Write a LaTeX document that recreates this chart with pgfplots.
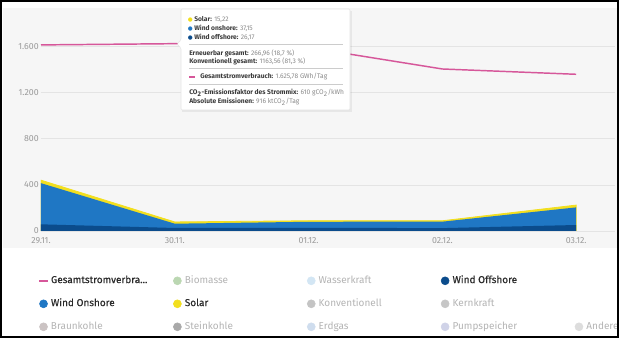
\documentclass[border=0pt]{standalone}
\usepackage{pgfplots}
\pgfplotsset{compat=1.18}
\usepackage{pgfplotstable}
\usepackage{fontspec}
\setmainfont{Fira Sans}
\newfontfamily\medfont{Fira Sans}[FakeBold=0.35]
\newfontfamily\dejavu{DejaVu Sans}
\definecolor{bgc}{HTML}{F6F6F6}
\definecolor{gridc}{HTML}{E4E4E4}
\definecolor{tickc}{HTML}{9A9A9A}
\definecolor{cPink}{HTML}{D6579A}
\definecolor{cOn}{HTML}{1F77C4}
\definecolor{cOff}{HTML}{0B4C8C}
\definecolor{cSolar}{HTML}{F2DF1E}
\definecolor{cBio}{HTML}{BBD7B2}
\definecolor{cWasser}{HTML}{D3E6F4}
\definecolor{cKonv}{HTML}{C4C4C4}
\definecolor{cKern}{HTML}{C6C6C6}
\definecolor{cBraun}{HTML}{CBC3C3}
\definecolor{cStein}{HTML}{A9A9A9}
\definecolor{cErdgas}{HTML}{CFDDEE}
\definecolor{cPump}{HTML}{D0D3E8}
\definecolor{cAndere}{HTML}{DDDDDD}
\definecolor{txtA}{HTML}{2A2A2A}
\definecolor{txtI}{HTML}{B4B4B4}
\definecolor{tipLab}{HTML}{3A3A3A}
\definecolor{tipVal}{HTML}{8A8A8A}

\pgfplotstableread{
x offshore onshore solar
0 58 357 26
1 26.17 37.15 15.22
2 28 52 9
3 25 56 8
4 52 153 20
}\energy
\pgfplotstableread{
x verbrauch
0 1615
1 1625.78
2 1592
3 1406
4 1360
}\verbrauch

\pgfplotsset{
  ldot/.style={legend image code/.code={\fill (3pt,0pt) circle (3pt);}},
  lline/.style={legend image code/.code={\fill[cPink] (0pt,-0.55pt) rectangle (6pt,0.55pt);}},
}
\newcommand{\legtxt}[2]{\makebox[94pt][l]{\hspace{2.4pt}\textcolor{#1}{#2}}}
\newcommand{\tipdot}[1]{\textcolor{#1}{\dejavu\fontsize{4.2}{5}\selectfont ●}\hspace{1.2pt}}

\begin{document}
\begin{tikzpicture}
\path[use as bounding box] (0pt,0pt) rectangle (464.25pt,-253.5pt);
\begin{scope}[x=0.75pt,y=-0.75pt]
\fill[white] (0,0) rectangle (619,338);
\fill[bgc] (3,8) rectangle (617,248);
\end{scope}
\begin{axis}[
  at={(30.75pt,-173.25pt)}, anchor=south west,
  scale only axis, width=430.5pt, height=164.2pt,
  xmin=0, xmax=4.29, ymin=0, ymax=1900,
  xtick={0,1,2,3,4},
  xticklabels={29.11.,30.11.,01.12.,02.12.,03.12.},
  ytick={0,400,800,1200,1600},
  yticklabels={0,400,800,1.200,1.600},
  ymajorgrids, grid style={draw=gridc, line width=0.6pt},
  axis line style={draw=none}, major tick length=0pt,
  tick label style={font=\fontsize{6.6}{7}\selectfont, text=tickc},
  yticklabel style={anchor=east, inner sep=0pt, xshift=-1.5pt},
  xticklabel style={anchor=north, inner sep=0pt, yshift=-4.9pt},
  legend columns=5,
  legend style={at={(-0.0035,-0.205)}, anchor=north west, draw=none, fill=none,
    inner sep=0pt, column sep=0pt, row sep=10.25pt,
    nodes={inner sep=0pt, text height=5.2pt, text depth=1.8pt},
    font=\fontsize{7.5}{8}\selectfont},
  legend cell align=left,
]
\addplot[fill=cSolar, draw=cSolar, line width=0.6pt, forget plot]
  table[x=x, y expr=\thisrow{offshore}+\thisrow{onshore}+\thisrow{solar}] {\energy} \closedcycle;
\addplot[fill=cOn, draw=none, forget plot]
  table[x=x, y expr=\thisrow{offshore}+\thisrow{onshore}] {\energy} \closedcycle;
\addplot[fill=cOff, draw=none, forget plot]
  table[x=x, y=offshore] {\energy} \closedcycle;
\addplot[cPink, line width=1.1pt, forget plot] table[x=x, y=verbrauch] {\verbrauch};

\addlegendimage{lline}\addlegendentry{\legtxt{txtA}{\medfont Gesamtstromverbra...}}
\addlegendimage{ldot, cBio}\addlegendentry{\legtxt{txtI}{Biomasse}}
\addlegendimage{ldot, cWasser}\addlegendentry{\legtxt{txtI}{Wasserkraft}}
\addlegendimage{ldot, cOff}\addlegendentry{\legtxt{txtA}{\medfont Wind Offshore}}
\addlegendimage{empty legend}\addlegendentry{}
\addlegendimage{ldot, cOn}\addlegendentry{\legtxt{txtA}{\medfont Wind Onshore}}
\addlegendimage{ldot, cSolar}\addlegendentry{\legtxt{txtA}{\medfont Solar}}
\addlegendimage{ldot, cKonv}\addlegendentry{\legtxt{txtI}{Konventionell}}
\addlegendimage{ldot, cKern}\addlegendentry{\legtxt{txtI}{Kernkraft}}
\addlegendimage{empty legend}\addlegendentry{}
\addlegendimage{ldot, cBraun}\addlegendentry{\legtxt{txtI}{Braunkohle}}
\addlegendimage{ldot, cStein}\addlegendentry{\legtxt{txtI}{Steinkohle}}
\addlegendimage{ldot, cErdgas}\addlegendentry{\legtxt{txtI}{Erdgas}}
\addlegendimage{ldot, cPump}\addlegendentry{\legtxt{txtI}{Pumpspeicher}}
\addlegendimage{ldot, cAndere}\addlegendentry{\legtxt{txtI}{Andere}}
\end{axis}
\begin{scope}[x=0.75pt,y=-0.75pt]
% tooltip
\fill[black, opacity=0.06] (182,11) rectangle (352,112);
\filldraw[fill=white, draw=black!10, line width=0.4pt, rounded corners=1pt]
  (181,9) -- (350,9) -- (350,110) -- (181,110) -- (181,48) -- (177,44) -- (181,40) -- cycle;
\begin{scope}[every node/.style={inner sep=0pt, anchor=west, font=\fontsize{5}{6}\selectfont}]
\node at (187.5,20) {\tipdot{cSolar}\textcolor{tipLab}{\textbf{Solar:}} \textcolor{tipVal}{15,22}};
\node at (187.5,28.5) {\tipdot{cOn}\textcolor{tipLab}{\textbf{Wind onshore:}} \textcolor{tipVal}{37,15}};
\node at (187.5,37) {\tipdot{cOff}\textcolor{tipLab}{\textbf{Wind offshore:}} \textcolor{tipVal}{26,17}};
\node at (189,53) {\textcolor{tipLab}{\textbf{Erneuerbar gesamt:}} \textcolor{tipVal}{266,96 (18,7 \%)}};
\node at (189,61.5) {\textcolor{tipLab}{\textbf{Konventionell gesamt:}} \textcolor{tipVal}{1163,56 (81,3 \%)}};
\node at (200,77) {\textcolor{tipLab}{\textbf{Gesamtstromverbrauch:}} \textcolor{tipVal}{1.625,78 GWh/Tag}};
\node at (189,93) {\textcolor{tipLab}{\textbf{CO\textsubscript{2}-Emissionsfaktor des Strommix:}} \textcolor{tipVal}{610 gCO\textsubscript{2}/kWh}};
\node at (189,101.5) {\textcolor{tipLab}{\textbf{Absolute Emissionen:}} \textcolor{tipVal}{916 ktCO\textsubscript{2}/Tag}};
\end{scope}
\draw[cPink, line width=0.9pt] (189,77) -- (195,77);
\draw[black!20, line width=0.4pt] (189,44) -- (343,44);
\draw[black!20, line width=0.4pt] (189,68) -- (343,68);
\draw[black!20, line width=0.4pt] (189,84) -- (343,84);
% frame
\draw[black, line width=1.6pt] (1,1) rectangle (618,337);
\end{scope}
\end{tikzpicture}
\end{document}
